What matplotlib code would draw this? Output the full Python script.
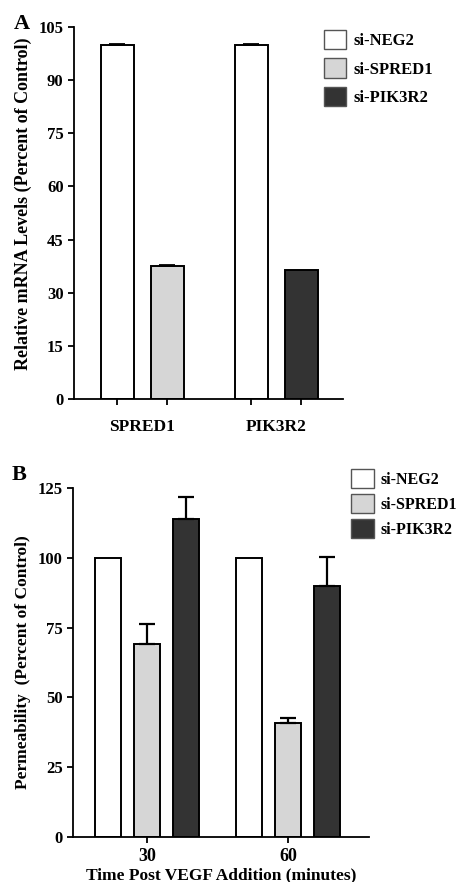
import matplotlib
matplotlib.use("Agg")
import matplotlib.pyplot as plt
from matplotlib.patches import Patch
import numpy as np

plt.rcParams['font.family'] = ['Liberation Serif', 'DejaVu Serif']
plt.rcParams['font.weight'] = 'bold'

# ---------------- data ----------------
series_names = ["si-NEG2", "si-SPRED1", "si-PIK3R2"]
series_colors = ["#ffffff", "#d6d6d6", "#333333"]

# Panel A
a_groups = ["SPRED1", "PIK3R2"]
a_bar_series = [[0, 1], [0, 2]]          # which series appear in each group
a_values = [[100.0, 37.5], [100.0, 36.3]]
a_errors = [[0.2, 0.4], [0.2, 0.0]]
a_yticks = [0, 15, 30, 45, 60, 75, 90, 105]

# Panel B
b_groups = ["30", "60"]
b_values = {"si-NEG2": [100.0, 100.0],
            "si-SPRED1": [69.0, 41.0],
            "si-PIK3R2": [114.0, 90.0]}
b_errors = {"si-NEG2": [0.0, 0.0],
            "si-SPRED1": [7.4, 1.5],
            "si-PIK3R2": [7.6, 10.2]}
b_yticks = [0, 25, 50, 75, 100, 125]

fig = plt.figure(figsize=(4.63, 8.82), dpi=100)

def style_axes(ax):
    ax.spines['top'].set_visible(False)
    ax.spines['right'].set_visible(False)
    for s in ['left', 'bottom']:
        ax.spines[s].set_linewidth(1.3)
    ax.tick_params(axis='both', direction='out', width=1.3, length=4, labelsize=12)
    for lab in ax.get_yticklabels() + ax.get_xticklabels():
        lab.set_fontweight('bold')

# ---------------- Panel A ----------------
axA = fig.add_axes([74/463, 1-399/882, 269/463, 372/882])
gap_a = 2.68
bar_pos = []
for gi, (sers, vals, errs) in enumerate(zip(a_bar_series, a_values, a_errors)):
    for bi, (s, v, e) in enumerate(zip(sers, vals, errs)):
        x = gi * gap_a + bi
        bar_pos.append(x)
        axA.bar(x, v, width=0.66, color=series_colors[s], edgecolor='black', linewidth=1.4)
        if e > 0:
            axA.errorbar(x, v, yerr=[[0], [e]], fmt='none', ecolor='black',
                         elinewidth=1.3, capsize=6, capthick=1.3)
axA.set_xlim(-0.86, 4.52)
axA.set_ylim(0, 105)
axA.set_yticks(a_yticks)
axA.set_xticks(bar_pos)
axA.set_xticklabels([''] * len(bar_pos))
style_axes(axA)
for gi, g in enumerate(a_groups):
    axA.text(gi * gap_a + 0.5, -8.0, g, ha='center', va='center', fontsize=12.5, fontweight='bold')
axA.set_ylabel("Relative mRNA Levels (Percent of Control)", fontsize=13, fontweight='bold', labelpad=5)
axA.yaxis.label.set_y(0.524)
handles = [Patch(facecolor=c, edgecolor='#555555', linewidth=1.0) for c in series_colors]
fig.legend(handles, series_names, loc='upper left', bbox_to_anchor=(309/463, 1-15/882),
           frameon=False, prop={'weight': 'bold', 'size': 12}, handlelength=1.3,
           handleheight=1.4, labelspacing=0.55, handletextpad=0.45)
fig.text(14/463, 1-24/882, "A", fontsize=16, fontweight='bold', va='center', ha='left')

# ---------------- Panel B ----------------
axB = fig.add_axes([73/463, 1-837/882, 296/463, 349/882])
gap_b = 3.615
for si, name in enumerate(series_names):
    xs = np.arange(len(b_groups)) * gap_b + (si - 1)
    axB.bar(xs, b_values[name], width=0.667, color=series_colors[si], edgecolor='black', linewidth=1.4)
    for x, v, e in zip(xs, b_values[name], b_errors[name]):
        if e > 0:
            axB.errorbar(x, v, yerr=[[0], [e]], fmt='none', ecolor='black',
                         elinewidth=1.6, capsize=6, capthick=1.6)
axB.set_xlim(-1.91, 5.68)
axB.set_ylim(0, 125)
axB.set_yticks(b_yticks)
axB.set_xticks(np.arange(len(b_groups)) * gap_b)
axB.set_xticklabels(b_groups)
style_axes(axB)
axB.tick_params(axis='x', pad=4, labelsize=13)
axB.set_xlabel("Time Post VEGF Addition (minutes)", fontsize=12.5, fontweight='bold', labelpad=1.5)
axB.set_ylabel("Permeability  (Percent of Control)", fontsize=12.5, fontweight='bold', labelpad=5)
fig.legend(handles, series_names, loc='upper left', bbox_to_anchor=(337/463, 1-455/882),
           frameon=False, prop={'weight': 'bold', 'size': 11.5}, handlelength=1.4,
           handleheight=1.4, labelspacing=0.4, handletextpad=0.4)
fig.text(12/463, 1-475/882, "B", fontsize=16, fontweight='bold', va='center', ha='left')

fig.savefig("out.png", dpi=100)
